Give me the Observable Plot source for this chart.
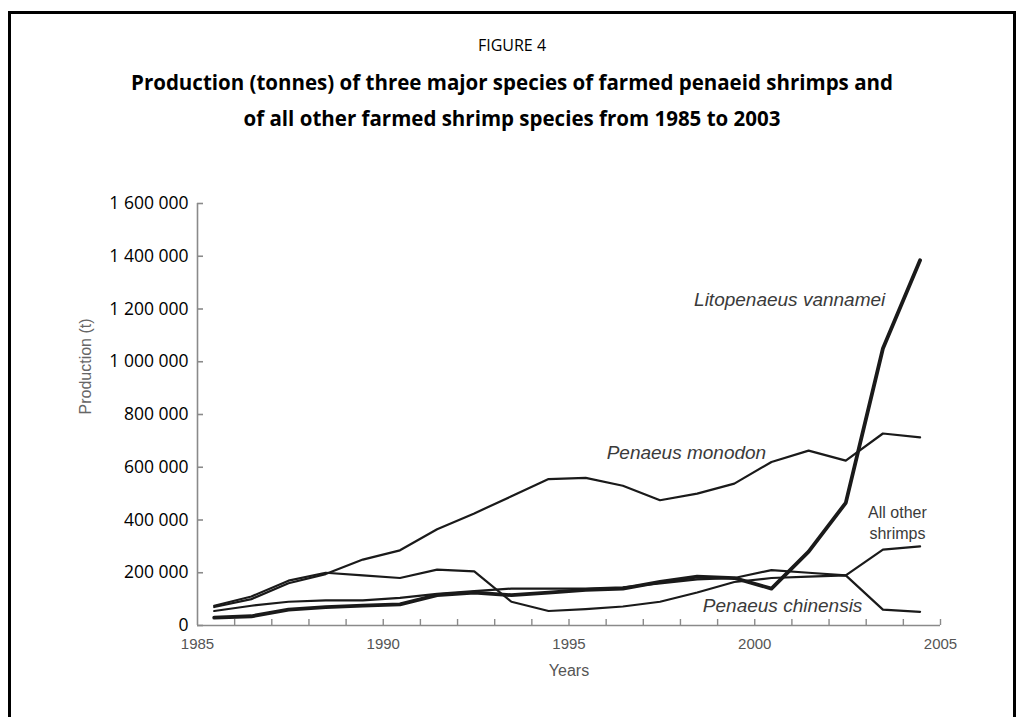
<!DOCTYPE html>
<html>
<head>
<meta charset="utf-8">
<script src="https://cdn.jsdelivr.net/npm/d3@7"></script>
<script src="https://cdn.jsdelivr.net/npm/@observablehq/plot@0.6"></script>
<style>
  html, body { margin: 0; padding: 0; background: #fff; width: 1024px; height: 717px; overflow: hidden; }
  #frame { position: absolute; left: 8px; top: 11px; width: 1008px; height: 760px; border: 3px solid #000; box-sizing: border-box; }
  .t { position: absolute; left: 0; width: 1024px; text-align: center; font-family: "Open Sans", sans-serif; color: #000; }
  #fig { top: 34px; font-size: 16px; }
  #title { top: 64px; font-size: 20.5px; font-weight: bold; line-height: 36px; }
  #chart { position: absolute; left: 0; top: 0; }
</style>
</head>
<body>
<div id="frame"></div>
<div class="t" id="fig">FIGURE 4</div>
<div class="t" id="title">Production (tonnes) of three major species of farmed penaeid shrimps and<br>of all other farmed shrimp species from 1985 to 2003</div>
<div id="chart"></div>
<script>
// Data (tonnes), one value per plotted year
const years = [1985, 1986, 1987, 1988, 1989, 1990, 1991, 1992, 1993, 1994,
               1995, 1996, 1997, 1998, 1999, 2000, 2001, 2002, 2003, 2004];
const monodon   = [70000, 100000, 160000, 195000, 250000, 285000, 365000, 425000, 490000, 555000,
                   560000, 530000, 475000, 500000, 538000, 620000, 663000, 625000, 728000, 713000];
const vannamei  = [30000, 35000, 60000, 70000, 75000, 80000, 115000, 125000, 115000, 125000,
                   135000, 140000, 165000, 185000, 180000, 140000, 280000, 465000, 1050000, 1385000];
const allOther  = [55000, 75000, 90000, 95000, 95000, 105000, 120000, 130000, 140000, 140000,
                   140000, 145000, 160000, 175000, 180000, 210000, 200000, 190000, 288000, 300000];
const chinensis = [75000, 110000, 170000, 200000, 190000, 180000, 212000, 205000, 90000, 55000,
                   62000, 72000, 90000, 125000, 165000, 180000, 185000, 190000, 60000, 52000];

const yTicks = [0, 200000, 400000, 600000, 800000, 1000000, 1200000, 1400000, 1600000];
const xLabels = [1985, 1990, 1995, 2000, 2005];
const xMinor = [1986, 1987, 1988, 1989, 1990, 1991, 1992, 1993, 1994, 1995, 1996,
                1997, 1998, 1999, 2000, 2001, 2002, 2003, 2004, 2005];

const seriesNames = ["Penaeus monodon", "Litopenaeus vannamei", "All other shrimps", "Penaeus chinensis"];
const seriesValues = [monodon, vannamei, allOther, chinensis];
const seriesWidth = {"Penaeus monodon": 2.2, "Litopenaeus vannamei": 3.8, "All other shrimps": 2.2, "Penaeus chinensis": 2.2};

// label annotations (year position, value position)
const labelText = ["Litopenaeus vannamei", "Penaeus monodon", "All other\nshrimps", "Penaeus chinensis"];
const labelYear = [2000.94, 1998.16, 2003.84, 2000.75];
const labelValue = [1243000, 663000, 394000, 80000];
const labelSize = [19, 19, 16, 19];
const labelStyle = ["italic", "italic", "normal", "italic"];

const rows = [];
seriesNames.forEach((name, s) => {
  years.forEach((yr, i) => rows.push({series: name, year: yr, value: seriesValues[s][i]}));
});
const labels = labelText.map((t, i) => ({text: t, year: labelYear[i], value: labelValue[i], size: labelSize[i], style: labelStyle[i]}));

const fmt = d => d3.format(",")(d).replace(/,/g, " ");
const yearPos = d => d.year + 0.45; // points sit mid-year on the axis

const lineMarks = seriesNames.map(name =>
  Plot.line(rows.filter(r => r.series === name), {
    x: yearPos, y: "value", stroke: "#1a1a1a",
    strokeWidth: seriesWidth[name], strokeLinejoin: "round", strokeLinecap: "round"
  })
);

const labelMarks = ["italic", "normal"].map(st =>
  Plot.text(labels.filter(l => l.style === st), {x: "year", y: "value", text: "text", fontSize: d => d.size,
    fontStyle: st, fill: "#3a3a3a", lineHeight: 1.3})
);

const chart = Plot.plot({
  width: 1024,
  height: 717,
  marginLeft: 197,
  marginRight: 84,
  marginTop: 203,
  marginBottom: 92,
  style: {fontFamily: "'Liberation Sans', Arial, sans-serif", background: "transparent"},
  x: {domain: [1985, 2005]},
  y: {domain: [0, 1600000]},
  marks: [
    Plot.ruleY([0], {stroke: "#8a8a8a", strokeWidth: 1.6}),
    Plot.ruleX([1985], {stroke: "#8a8a8a", strokeWidth: 1.6}),
    Plot.axisY(yTicks, {tickSize: -6, tickPadding: 15, stroke: "#8a8a8a", strokeWidth: 1.6,
      tickFormat: fmt, fontSize: 17.5, fill: "#000", fontFamily: "'Open Sans', sans-serif", label: null}),
    Plot.axisX(xMinor, {tickSize: -6, stroke: "#8a8a8a", strokeWidth: 1.4, text: null, label: null}),
    Plot.axisX(xLabels, {tickSize: 0, tickPadding: 13, tickFormat: d => String(d), fontSize: 15,
      fill: "#555", label: null}),
    Plot.text(["Years"], {frameAnchor: "bottom", dy: 50, fontSize: 16, fill: "#555"}),
    Plot.text(["Production (t)"], {frameAnchor: "left", rotate: -90, dx: -112, fontSize: 16, fill: "#666"}),
    ...lineMarks,
    ...labelMarks
  ]
});
document.getElementById("chart").appendChild(chart);
</script>
</body>
</html>
